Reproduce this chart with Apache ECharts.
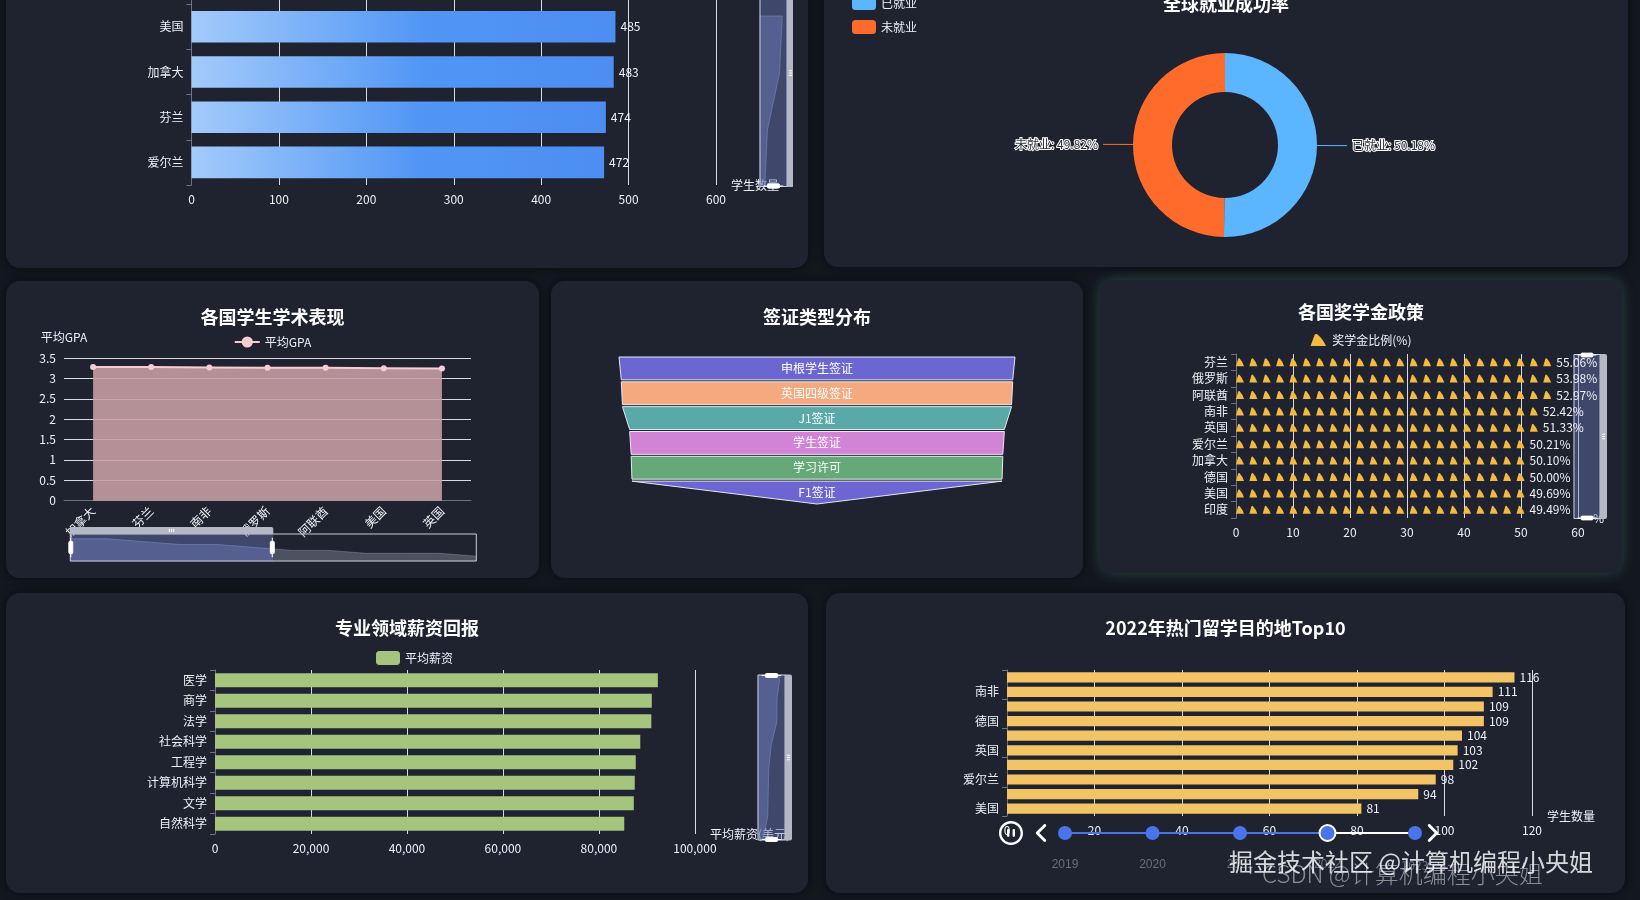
<!DOCTYPE html>
<html>
<head>
<meta charset="utf-8">
<title>留学数据看板</title>
<script src="https://cdn.jsdelivr.net/npm/echarts@6/dist/echarts.min.js"></script>
<style>
html,body{margin:0;width:1640px;height:900px;overflow:hidden;background:#13171e;}
.panel{position:absolute;background:#1f2330;border-radius:14px;box-shadow:0 0 8px rgba(0,0,0,.5);}
.chart{position:absolute;}
.mark{position:absolute;font-family:"Noto Sans CJK SC";font-size:24px;white-space:nowrap;line-height:28px;}
</style>
</head>
<body>
<div class="panel" style="left:6px;top:-40px;width:802px;height:308px"></div>
<div class="panel" style="left:824px;top:-40px;width:804px;height:307px"></div>
<div class="panel" style="left:6px;top:281px;width:533px;height:297px"></div>
<div class="panel" style="left:551px;top:281px;width:532px;height:297px"></div>
<div class="panel" style="left:1100px;top:280px;width:522px;height:293px;box-shadow:0 0 14px rgba(70,130,110,.45)"></div>
<div class="panel" style="left:6px;top:593px;width:802px;height:300px"></div>
<div class="panel" style="left:826px;top:593px;width:799px;height:300px"></div>

<div class="chart" id="c1" style="left:21px;top:-41px;width:772px;height:294px"></div>
<div class="chart" id="c2" style="left:839px;top:-23px;width:774px;height:290px"></div>
<div class="chart" id="c3" style="left:21px;top:296px;width:503px;height:267px"></div>
<div class="chart" id="c4" style="left:566px;top:296px;width:502px;height:267px"></div>
<div class="chart" id="c5" style="left:1115px;top:295px;width:492px;height:263px"></div>
<div class="chart" id="c6" style="left:21px;top:608px;width:772px;height:270px"></div>
<div class="chart" id="c7" style="left:841px;top:608px;width:769px;height:270px"></div>

<div class="mark" style="left:1262px;top:859px;color:rgba(205,210,220,.6);font-weight:300">CSDN @计算机编程小央姐</div>
<div class="mark" style="left:1229px;top:847px;color:rgba(255,255,255,.82)">掘金技术社区 @计算机编程小央姐</div>

<script>
// 留学生人数（上方被裁切，空类目只占位）
var studentCountries = ['爱尔兰', '芬兰', '加拿大', '美国', ''];
var studentCounts = [472, 474, 483, 485, null];

var employLabels = ['已就业', '未就业'];
var employRates = [50.18, 49.82];

var gpaCountries = ['加拿大', '芬兰', '南非', '俄罗斯', '阿联酋', '美国', '英国', '德国', '印度', '爱尔兰', '法国', '日本'];
var gpaValues = [3.28, 3.28, 3.27, 3.26, 3.26, 3.25, 3.24, 3.24, 3.23, 3.23, 3.23, 3.22];
var gpaTicks = [0, 0.5, 1, 1.5, 2, 2.5, 3, 3.5];

var visaTypes = ['申根学生签证', '英国四级签证', 'J1签证', '学生签证', '学习许可', 'F1签证'];
var visaCounts = [520, 514, 511, 492, 488, 486];
var visaColors = ['#6c66d2', '#f4a97f', '#59a9a9', '#d184d6', '#65a978', '#6c66d2'];

var scholarCountries = ['印度', '美国', '德国', '加拿大', '爱尔兰', '英国', '南非', '阿联酋', '俄罗斯', '芬兰'];
var scholarRates = [49.49, 49.69, 50.00, 50.10, 50.21, 51.33, 52.42, 52.97, 53.98, 55.06];

var majors = ['自然科学', '文学', '计算机科学', '工程学', '社会科学', '法学', '商学', '医学'];
var salaries = [85280, 87270, 87470, 87680, 88620, 90920, 91020, 92280];

var years = ['2019', '2020', '2021', '2022', '2023'];
var topCountries = ['美国', '加拿大', '爱尔兰', '俄罗斯', '英国', '阿联酋', '德国', '印度', '南非', '芬兰'];
var topCounts = [81, 94, 98, 102, 103, 104, 109, 109, 111, 116];

var font = '"Noto Sans CJK SC"';
var textColor = '#eef0f4';
var wedge = 'path://M0,24 L8,2 Q10,0 13,1 Q24,10 30,24 Z';

function makeChart(id, option) {
    var chart = echarts.init(document.getElementById(id), null, { renderer: 'canvas' });
    chart.setOption(option);
    return chart;
}

function titleOf(text, top) {
    return { text: text, left: 'center', top: top, textStyle: { color: '#fff', fontSize: 18, fontWeight: 'bold', fontFamily: font } };
}

function valueAxis(name, interval, max) {
    return {
        type: 'value', name: name, min: 0, max: max, interval: interval,
        nameTextStyle: { color: textColor, fontSize: 12, fontFamily: font },
        axisLabel: { color: textColor, fontSize: 12, fontFamily: font },
        axisLine: { show: false }, axisTick: { show: false },
        splitLine: { lineStyle: { color: '#d8dae0', width: 1 } }
    };
}

function categoryAxis(data) {
    return {
        type: 'category', data: data,
        axisLabel: { color: textColor, fontSize: 12, fontFamily: font, interval: 0 },
        axisLine: { show: true, lineStyle: { color: '#6e7382' } },
        axisTick: { show: true, lineStyle: { color: '#6e7382' } }
    };
}

function slider(extra) {
    var s = {
        type: 'slider', start: 0, end: 100, showDetail: false,
        backgroundColor: 'transparent', borderColor: '#c9cdd9',
        fillerColor: 'rgba(112,128,196,.4)', handleSize: '70%',
        handleStyle: { color: '#fff', borderColor: '#fff' },
        moveHandleSize: 7, moveHandleStyle: { color: '#b3b7c6', opacity: 1 },
        dataBackground: { lineStyle: { color: '#8a8f9f' }, areaStyle: { color: '#6d7180', opacity: .6 } },
        selectedDataBackground: { lineStyle: { color: '#8f9fdc' }, areaStyle: { color: '#6f7fbe', opacity: .45 } }
    };
    for (var k in extra) s[k] = extra[k];
    return s;
}

// 学生数量（顶部被裁切）
makeChart('c1', {
    animation: false,
    grid: { left: 170.5, top: 0, width: 524.5, height: 226 },
    xAxis: valueAxis('学生数量', 100, 600),
    yAxis: categoryAxis(studentCountries),
    dataZoom: [slider({ yAxisIndex: 0, orient: 'vertical', left: 736, width: 28, top: 0, height: 228 })],
    series: [{
        type: 'bar', data: studentCounts, barWidth: '70%',
        itemStyle: { color: new echarts.graphic.LinearGradient(0, 0, 1, 0, [
            { offset: 0, color: '#a3cbfb' }, { offset: .55, color: '#5196f5' }, { offset: 1, color: '#4c8ef2' }
        ]) },
        label: { show: true, position: 'right', color: textColor, fontSize: 12, fontFamily: font }
    }]
});

// 就业成功率
makeChart('c2', {
    animation: false,
    title: titleOf('全球就业成功率', 13),
    legend: {
        orient: 'vertical', left: 8, top: 14, itemWidth: 24, itemHeight: 14, itemGap: 10, data: employLabels,
        textStyle: { color: textColor, fontSize: 12, fontFamily: font }
    },
    series: [{
        type: 'pie', center: [386, 168], radius: [53, 92],
        data: employLabels.map(function (n, i) {
            return { name: n, value: employRates[i], itemStyle: { color: i == 0 ? '#5bb5ff' : '#ff6b2b' } };
        }),
        label: {
            formatter: function (p) { return p.name + ': ' + p.value.toFixed(2) + '%'; },
            color: '#2a2f3c', fontSize: 12, fontFamily: font, textBorderColor: '#fff', textBorderWidth: 2
        },
        labelLine: { length: 15, length2: 15 }
    }]
});

// 学术表现
makeChart('c3', {
    animation: false,
    title: titleOf('各国学生学术表现', 7),
    legend: {
        left: 'center', top: 35, itemWidth: 25, itemHeight: 14,
        textStyle: { color: textColor, fontSize: 12, fontFamily: font }
    },
    grid: { left: 43, top: 62, width: 407, height: 142.7 },
    xAxis: {
        type: 'category', data: gpaCountries,
        axisLabel: { color: textColor, rotate: 45, fontSize: 12, fontFamily: font, interval: 0 },
        axisLine: { lineStyle: { color: '#6e7382' } }, axisTick: { lineStyle: { color: '#6e7382' } }
    },
    yAxis: {
        type: 'value', name: '平均GPA', min: gpaTicks[0], max: gpaTicks[gpaTicks.length - 1], interval: 0.5,
        nameTextStyle: { color: textColor, fontSize: 12, fontFamily: font },
        axisLabel: { color: textColor, fontSize: 12, fontFamily: font },
        axisLine: { show: false }, axisTick: { show: false },
        splitLine: { lineStyle: { color: '#d8dae0' } }
    },
    dataZoom: [slider({ xAxisIndex: 0, start: 0, end: 50, left: 46, width: 407, top: 231, height: 28 })],
    series: [{
        name: '平均GPA', type: 'line', data: gpaValues, symbol: 'circle', symbolSize: 6,
        lineStyle: { color: '#f8cdd2', width: 2 },
        itemStyle: { color: '#f8cdd2' },
        areaStyle: { color: '#c9a0a4', opacity: .88 }
    }]
});

// 签证类型
makeChart('c4', {
    animation: false,
    title: titleOf('签证类型分布', 7),
    series: [{
        type: 'funnel', left: 53, top: 61, width: 396, height: 147, gap: 2,
        min: 0, max: visaCounts[0], sort: 'descending',
        data: visaTypes.map(function (n, i) {
            return { name: n, value: visaCounts[i], itemStyle: { color: visaColors[i] } };
        }),
        itemStyle: { borderColor: '#e6e8ee', borderWidth: 1 },
        label: { show: true, position: 'inside', color: '#fff', fontSize: 12, fontFamily: font }
    }]
});

// 奖学金政策
makeChart('c5', {
    animation: false,
    title: titleOf('各国奖学金政策', 3),
    legend: {
        left: 'center', top: 34, itemWidth: 18, itemHeight: 12,
        data: [{ name: '奖学金比例(%)', icon: wedge }],
        textStyle: { color: textColor, fontSize: 12, fontFamily: font }
    },
    grid: { left: 121, top: 59, width: 343, height: 164 },
    xAxis: valueAxis('%', 10, 60),
    yAxis: categoryAxis(scholarCountries),
    dataZoom: [slider({ yAxisIndex: 0, orient: 'vertical', left: 458, width: 27, top: 59, height: 165 })],
    series: [{
        name: '奖学金比例(%)', type: 'pictorialBar', data: scholarRates, z: 5,
        symbol: wedge, symbolRepeat: true, symbolSize: [8, 8], symbolMargin: 2.7, symbolPosition: 'start',
        itemStyle: { color: '#f5b93f' },
        label: {
            show: true, position: 'right', color: textColor, fontSize: 12, fontFamily: font,
            formatter: function (p) { return p.value.toFixed(2) + '%'; }
        }
    }]
});

// 薪资回报
makeChart('c6', {
    animation: false,
    title: titleOf('专业领域薪资回报', 6),
    legend: {
        left: 350, top: 38, itemWidth: 24, itemHeight: 14,
        textStyle: { color: textColor, fontSize: 12, fontFamily: font }
    },
    grid: { left: 194, top: 62, width: 501, height: 164 },
    xAxis: valueAxis('平均薪资(美元)', 20000, 100000),
    yAxis: categoryAxis(majors),
    dataZoom: [slider({ yAxisIndex: 0, orient: 'vertical', left: 736, width: 28, top: 64, height: 166 })],
    series: [{ name: '平均薪资', type: 'bar', data: salaries, barWidth: '68%', itemStyle: { color: '#a5c47e' } }]
});

// 热门目的地，时间轴停在2022
var topAxis = categoryAxis(topCountries);
topAxis.axisLabel.interval = 1;
makeChart('c7', {
    animation: false,
    baseOption: {
        animation: false,
        timeline: {
            axisType: 'category', data: years, currentIndex: 3, autoPlay: true, playInterval: 1000000000,
            left: 158, right: 162, top: 213, height: 50, padding: 0,
            symbolSize: 14,
            lineStyle: { color: '#fff', width: 2 },
            itemStyle: { color: '#4a74ea' },
            progress: { lineStyle: { color: '#4a74ea', width: 3 }, itemStyle: { color: '#4a74ea' } },
            checkpointStyle: { color: '#4a74ea', borderColor: '#fff', borderWidth: 2, symbolSize: 16, animation: false },
            controlStyle: { itemSize: 24, itemGap: 9, color: '#fff', borderColor: '#fff' },
            label: { color: '#696e7c', fontSize: 12, fontFamily: font }
        },
        grid: { left: 166, top: 62, width: 525, height: 146 },
        xAxis: valueAxis('学生数量', 20, 120),
        yAxis: topAxis,
        series: [{
            type: 'bar', barWidth: '70%', itemStyle: { color: '#f2c465' },
            label: { show: true, position: 'right', color: textColor, fontSize: 12, fontFamily: font }
        }]
    },
    options: years.map(function (y) {
        if (y != '2022') return {};
        return { title: titleOf(y + '年热门留学目的地Top10', 6), series: [{ data: topCounts }] };
    })
});
</script>
</body>
</html>
